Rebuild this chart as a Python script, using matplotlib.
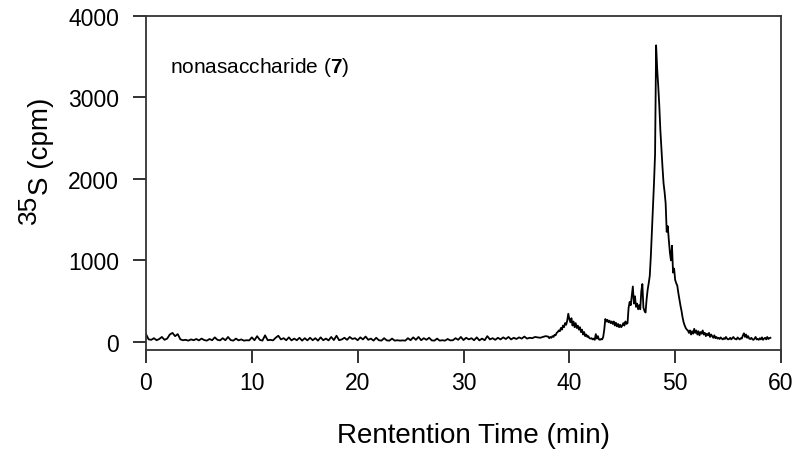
import numpy as np
import matplotlib
matplotlib.use("Agg")
import matplotlib.pyplot as plt

plt.rcParams["font.family"] = "Liberation Sans"
plt.rcParams["mathtext.fontset"] = "custom"
plt.rcParams["mathtext.rm"] = "Liberation Sans"
plt.rcParams["mathtext.bf"] = "Liberation Sans:bold"

# baseline part of the trace, 0 - 38 min every 0.25 min
base_start, base_step = 0.0, 0.25
base_cpm = [
    95, 30, 25, 45, 20, 35, 60, 25,
    40, 90, 110, 70, 95, 30, 20, 25,
    15, 30, 20, 35, 18, 40, 22, 15,
    35, 20, 55, 25, 18, 45, 20, 60,
    22, 15, 40, 18, 30, 15, 20, 18,
    55, 20, 70, 25, 15, 80, 20, 25,
    18, 50, 75, 30, 45, 20, 55, 18,
    40, 20, 50, 15, 45, 18, 50, 20,
    45, 15, 55, 20, 40, 18, 60, 22,
    75, 20, 30, 50, 25, 60, 35, 45,
    20, 55, 30, 65, 25, 40, 15, 50,
    20, 15, 45, 18, 15, 40, 15, 20,
    15, 18, 15, 45, 20, 55, 25, 60,
    20, 45, 25, 50, 18, 15, 40, 15,
    20, 15, 35, 18, 20, 45, 25, 60,
    22, 50, 30, 45, 20, 55, 18, 40,
    20, 70, 30, 45, 25, 50, 30, 55,
    35, 60, 30, 50, 35, 55, 40, 65,
    40, 50, 45, 60, 55, 50, 60, 70,
    65,
]

# peak part of the trace, 38.1 - 59.0 min every 0.1 min
peak_start, peak_step = 38.1, 0.1
peak_cpm = [
    45, 60, 50, 70, 60, 85, 80, 110, 120, 140,
    130, 170, 150, 200, 180, 230, 210, 260, 345, 280,
    240, 290, 200, 250, 180, 230, 170, 200, 150, 180,
    120, 150, 90, 120, 70, 90, 60, 70, 45, 40,
    45, 30, 40, 25, 95, 40, 70, 30, 25, 35,
    30, 60, 150, 280, 250, 270, 240, 260, 230, 250,
    220, 250, 200, 235, 190, 220, 180, 210, 180, 200,
    230, 200, 250, 220, 230, 420, 490, 450, 560, 680,
    470, 560, 430, 470, 400, 450, 400, 620, 710, 420,
    380, 360, 520, 640, 720, 810, 1050, 1350, 1650, 1950,
    2300, 3640, 3350, 3140, 2900, 2600, 2370, 2150, 1950, 1840,
    1700, 1350, 1420, 1250, 1100, 1000, 1180, 850, 900, 760,
    720, 690, 600, 520, 445, 380, 300, 240, 200, 170,
    150, 140, 110, 140, 90, 130, 100, 160, 110, 140,
    90, 130, 80, 120, 100, 140, 90, 110, 70, 100,
    80, 110, 60, 90, 70, 50, 80, 45, 60, 40,
    50, 35, 55, 40, 30, 45, 35, 60, 40, 30,
    35, 50, 30, 45, 60, 40, 35, 30, 55, 40,
    30, 45, 40, 80, 105, 60, 90, 50, 70, 40,
    35, 50, 30, 25, 40, 60, 30, 35, 25, 45,
    30, 55, 25, 40, 50, 30, 60, 35, 45, 50,
]

x_ticks = [0, 10, 20, 30, 40, 50, 60]
y_ticks = [0, 1000, 2000, 3000, 4000]
label_text = r"nonasaccharide ($\mathbf{7}$)"

t = np.concatenate([base_start + base_step * np.arange(len(base_cpm)),
                    peak_start + peak_step * np.arange(len(peak_cpm))])
cpm = np.array(base_cpm + peak_cpm, dtype=float)

W, H = 796, 456
fig = plt.figure(figsize=(W / 100, H / 100), dpi=100)
ax = fig.add_axes([146 / W, 105 / H, 635 / W, 334 / H])
ax.plot(t, cpm, color="black", lw=1.3)

ax.set_xlim(0, 60)
ax.set_ylim(-100, 4000)
ax.set_xticks(x_ticks)
ax.set_yticks(y_ticks)
for s in ax.spines.values():
    s.set_linewidth(1.3)
    s.set_color("#333333")
ax.tick_params(direction="out", length=9.5, width=1.3, labelsize=16.5, color="#222222")
ax.tick_params(axis="x", pad=5.5)
ax.tick_params(axis="y", pad=10)

ax.set_xlabel("Rentention Time (min)", fontsize=20)
ax.xaxis.set_label_coords(0.5165, -0.215)

# y label: "35" raised, almost as large as the "S"
fig.text(48 / W, 1 - 195 / H, "S (cpm)", fontsize=20, rotation=90,
         rotation_mode="anchor", ha="left", va="baseline")
fig.text(36 / W, 1 - 195 / H, "35", fontsize=19, rotation=90,
         rotation_mode="anchor", ha="right", va="baseline")

ax.text(2.27, 3313, label_text, fontsize=15, va="baseline", ha="left")

fig.savefig("out.png", dpi=100)
